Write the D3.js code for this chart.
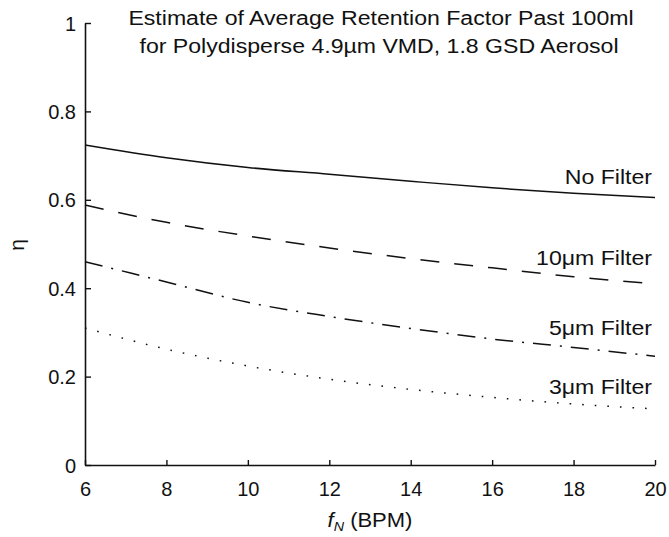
<!DOCTYPE html>
<html>
<head>
<meta charset="utf-8">
<script src="https://cdn.jsdelivr.net/npm/d3@7"></script>
<style>
  body { margin: 0; background: #fff; }
  svg { display: block; font-family: "Liberation Sans", Arial, sans-serif; }
</style>
</head>
<body>
<svg id="chart" width="669" height="537"></svg>
<script>
// breathing frequency (BPM)
const freqs = [6, 8, 10, 12, 14, 16, 18, 20];

// average retention factor per filter
const noFilter   = [0.724, 0.695, 0.673, 0.658, 0.642, 0.627, 0.615, 0.605];
const filter10um = [0.588, 0.549, 0.518, 0.491, 0.467, 0.446, 0.426, 0.410];
const filter5um  = [0.460, 0.414, 0.368, 0.336, 0.309, 0.285, 0.266, 0.246];
const filter3um  = [0.310, 0.262, 0.224, 0.194, 0.171, 0.153, 0.138, 0.127];

const seriesNames = ["No Filter", "10\u03bcm Filter", "5\u03bcm Filter", "3\u03bcm Filter"];
const xTicks = [6, 8, 10, 12, 14, 16, 18, 20];
const yTicks = [0, 0.2, 0.4, 0.6, 0.8, 1];

const svg = d3.select('#chart');
const margin = { top: 23, right: 14, bottom: 72, left: 85 };
const width = 669 - margin.left - margin.right;
const height = 537 - margin.top - margin.bottom;

// the original text is a little wider than Liberation Sans
const stretch = 1.1;

const x = d3.scaleLinear().domain([6, 20]).range([0, width]);
const y = d3.scaleLinear().domain([0, 1]).range([height, 0]);

const g = svg.append('g').attr('transform', `translate(${margin.left},${margin.top})`);

// line styles, one per series
const dashes = [null, '19,15', '18,9,2,9', '1.6,11'];
const allSeries = [noFilter, filter10um, filter5um, filter3um];

const line = d3.line()
  .x(d => x(d[0]))
  .y(d => y(d[1]))
  .curve(d3.curveMonotoneX);

allSeries.forEach((vals, i) => {
  g.append('path')
    .datum(freqs.map((f, j) => [f, vals[j]]))
    .attr('fill', 'none')
    .attr('stroke', '#111')
    .attr('stroke-width', 1.5)
    .attr('stroke-dasharray', dashes[i])
    .attr('d', line);
});

// series labels, right aligned
const labelY = [0.652, 0.470, 0.311, 0.177];
seriesNames.forEach((name, i) => {
  g.append('text')
    .attr('transform', `translate(${width - 3},${y(labelY[i])}) scale(${stretch},1)`)
    .attr('dy', '0.35em')
    .attr('text-anchor', 'end')
    .style('font-size', '21px')
    .attr('fill', '#111')
    .text(name);
});

// axes
const xAxis = d3.axisBottom(x).tickValues(xTicks).tickSizeInner(-5).tickSizeOuter(0).tickPadding(17);
const yAxis = d3.axisLeft(y).tickValues(yTicks).tickSizeInner(-6).tickSizeOuter(0).tickPadding(9)
  .tickFormat(d => d3.format('')(d));

const gx = g.append('g').attr('transform', `translate(0,${height})`).call(xAxis);
const gy = g.append('g').call(yAxis);

[gx, gy].forEach(a => {
  a.select('.domain').attr('stroke', '#111').attr('stroke-width', 1.6);
  a.selectAll('.tick line').attr('stroke', '#111').attr('stroke-width', 1.4);
  a.selectAll('.tick text').style('font-size', '20px').attr('fill', '#111').style('font-family', '"Liberation Sans", Arial, sans-serif');
});
gy.selectAll('.tick text').attr('dy', '0.35em');

// title
const titleLines = ['Estimate of Average Retention Factor Past 100ml', 'for Polydisperse 4.9\u00b5m VMD, 1.8 GSD Aerosol'];
titleLines.forEach((t, i) => {
  svg.append('text')
    .attr('transform', `translate(${381 - i * 2},${25 + i * 28}) scale(${stretch},1)`)
    .attr('text-anchor', 'middle')
    .style('font-size', '21px')
    .attr('fill', '#111')
    .text(t);
});

// y label
svg.append('text')
  .attr('transform', 'translate(24,245) rotate(-90)')
  .attr('text-anchor', 'middle')
  .style('font-size', '21px')
  .attr('fill', '#111')
  .text('\u03b7');

// x label
const xl = svg.append('text')
  .attr('transform', `translate(${margin.left + width / 2},527) scale(${stretch},1)`)
  .attr('text-anchor', 'middle')
  .style('font-size', '20px')
  .attr('fill', '#111');
xl.append('tspan').style('font-style', 'italic').text('f');
xl.append('tspan').style('font-style', 'italic').style('font-size', '13px').attr('dy', 4).text('N');
xl.append('tspan').attr('dy', -4).text(' (BPM)');
</script>
</body>
</html>
